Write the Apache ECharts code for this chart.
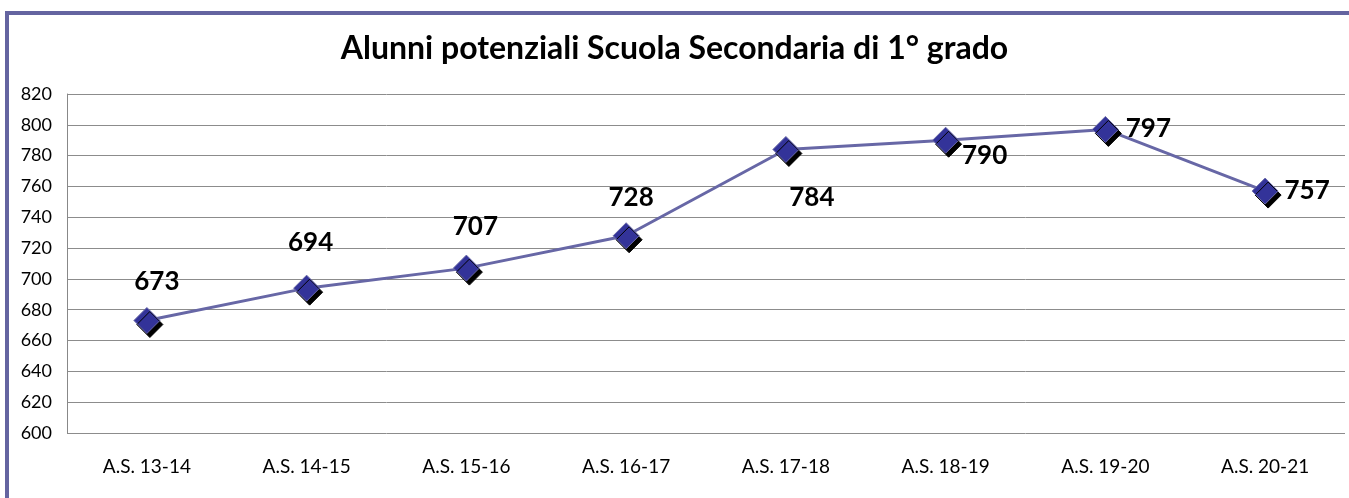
<!DOCTYPE html>
<html>
<head>
<meta charset="utf-8">
<script src="https://cdn.jsdelivr.net/npm/echarts@6/dist/echarts.min.js"></script>
<style>
    html, body {
        margin: 0;
        padding: 0;
        background: #fff;
        overflow: hidden;
    }
    .frame {
        position: absolute;
        left: 5px;
        top: 11px;
        right: 0;
        bottom: 0;
        border-top: 4px solid #6464a0;
        border-left: 4px solid #6464a0;
    }
    #main {
        position: absolute;
        left: 0;
        top: 0;
        width: 1349px;
        height: 498px;
    }
</style>
</head>
<body>
<div class="frame"></div>
<div id="main"></div>
<script type="text/javascript">
    var categories = ['A.S. 13-14', 'A.S. 14-15', 'A.S. 15-16', 'A.S. 16-17', 'A.S. 17-18', 'A.S. 18-19', 'A.S. 19-20', 'A.S. 20-21'];
    var values = [673, 694, 707, 728, 784, 790, 797, 757];

    // label shift from the centre of each marker (placed by hand in the original)
    var labelShift = [[10, -39], [4, -46], [9, -42], [5, -38], [26, 48], [39, 15], [43, -1], [42, 0]];

    var myChart = echarts.init(document.getElementById('main'));

    var option = {
        animation: false,
        title: {
            text: 'Alunni potenziali Scuola Secondaria di 1° grado',
            left: 'center',
            top: 28,
            textStyle: {
                fontFamily: 'Lato',
                fontSize: 32,
                fontWeight: 'bold',
                color: '#000'
            }
        },
        grid: {
            left: 67,
            right: 4,
            top: 94,
            bottom: 65
        },
        xAxis: {
            type: 'category',
            data: categories,
            boundaryGap: true,
            axisLine: {show: false},
            axisTick: {show: false},
            axisLabel: {
                margin: 24,
                fontFamily: 'Lato',
                fontSize: 19,
                color: '#000'
            }
        },
        yAxis: {
            type: 'value',
            min: 600,
            max: 820,
            interval: 20,
            axisLine: {show: true, lineStyle: {color: '#888'}},
            axisTick: {show: false},
            axisLabel: {
                margin: 15,
                fontFamily: 'Lato',
                fontSize: 18,
                color: '#000'
            },
            splitLine: {lineStyle: {color: '#8c8c8c', width: 1}}
        },
        series: [{
            type: 'line',
            data: values.map(function (v, i) {
                return {
                    value: v,
                    label: {offset: labelShift[i]}
                };
            }),
            symbol: 'diamond',
            symbolSize: 26,
            lineStyle: {color: '#6767a6', width: 3},
            itemStyle: {
                color: '#333399',
                borderColor: '#6a6aa8',
                borderWidth: 1,
                shadowColor: '#000',
                shadowBlur: 0,
                shadowOffsetX: 3,
                shadowOffsetY: 4
            },
            label: {
                show: true,
                position: 'inside',
                align: 'center',
                verticalAlign: 'middle',
                fontFamily: 'Lato',
                fontSize: 26,
                fontWeight: 'bold',
                color: '#000'
            }
        }]
    };

    myChart.setOption(option);
</script>
</body>
</html>
